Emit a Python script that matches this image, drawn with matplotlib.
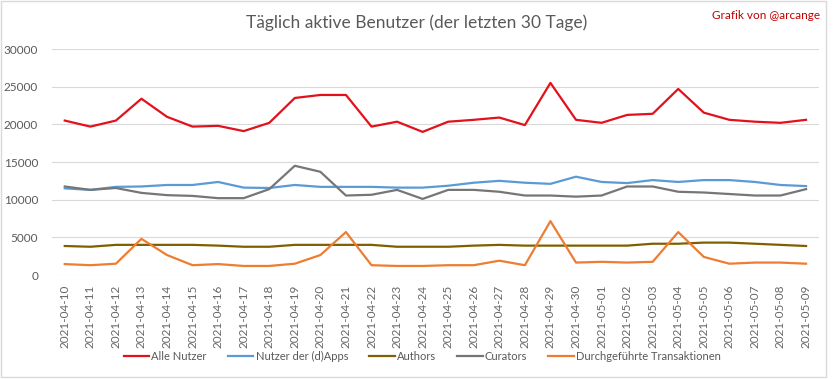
import numpy as np
import pandas as pd
import matplotlib
matplotlib.use("Agg")
import matplotlib.pyplot as plt
from matplotlib.patches import Rectangle

# tage (30)
dates = pd.date_range("2021-04-10", "2021-05-09").strftime("%Y-%m-%d").tolist()

alle_nutzer = [20500, 19700, 20500, 23400, 21000, 19700, 19800, 19100, 20200, 23500,
               23900, 23900, 19700, 20350, 19000, 20350, 20600, 20900, 19900, 25500,
               20600, 20200, 21250, 21400, 24700, 21550, 20600, 20350, 20200, 20600]
dapps = [11500, 11300, 11700, 11750, 11950, 11950, 12350, 11600, 11550, 11950,
         11700, 11700, 11700, 11600, 11600, 11850, 12250, 12500, 12250, 12100,
         13050, 12350, 12200, 12600, 12350, 12600, 12600, 12350, 11950, 11800]
authors = [3850, 3750, 4000, 4000, 4000, 4000, 3900, 3750, 3750, 4000,
           4000, 4000, 4000, 3750, 3750, 3750, 3900, 4000, 3900, 3900,
           3900, 3900, 3900, 4150, 4150, 4300, 4300, 4150, 4000, 3850]
curators = [11750, 11300, 11550, 10900, 10600, 10500, 10200, 10200, 11400, 14500,
            13700, 10550, 10650, 11300, 10100, 11300, 11300, 11050, 10550, 10550,
            10400, 10550, 11750, 11750, 11050, 10950, 10750, 10550, 10550, 11400]
transaktionen = [1450, 1300, 1500, 4800, 2650, 1300, 1450, 1200, 1200, 1500,
                 2650, 5700, 1300, 1200, 1200, 1300, 1300, 1900, 1300, 7150,
                 1650, 1750, 1650, 1750, 5700, 2400, 1500, 1650, 1650, 1500]

series = [
    ("Alle Nutzer", alle_nutzer, "#E3111B"),
    ("Nutzer der (d)Apps", dapps, "#5B9BD5"),
    ("Authors", authors, "#7F6000"),
    ("Curators", curators, "#767676"),
    ("Durchgeführte Transaktionen", transaktionen, "#ED7D31"),
]

plt.rcParams['font.family'] = ['Lato', 'DejaVu Sans']
txt_col = "#595959"

fig = plt.figure(figsize=(8.33, 3.79), dpi=100)
ax = fig.add_axes([0.0624, 0.2744, 0.9206, 0.5963])

x = np.arange(len(dates))
for name, vals, col in series:
    ax.plot(x, vals, color=col, linewidth=1.6, label=name)

ax.set_xlim(-0.5, len(dates) - 0.5)
ax.set_ylim(0, 30000)
ax.set_yticks(range(0, 30001, 5000))
ax.set_xticks(x)
ax.set_xticklabels(dates, rotation=90, fontsize=8.5, color="#666666")
ax.tick_params(axis='y', labelsize=8.5, labelcolor=txt_col, length=0, pad=10)
ax.tick_params(axis='x', length=0, pad=7)
ax.grid(axis='y', color="#D9D9D9", linewidth=0.8)
ax.set_axisbelow(True)
for s in ax.spines.values():
    s.set_visible(False)

fig.text(0.5, 0.94, "Täglich aktive Benutzer (der letzten 30 Tage)",
         ha='center', va='center', fontsize=12.5, color=txt_col)
fig.text(0.985, 0.96, "Grafik von @arcange", ha='right', va='center',
         fontsize=8.5, color="#C00000")

fig.legend(loc='center', bbox_to_anchor=(0.507, 0.06), ncol=5, frameon=False,
           fontsize=8, labelcolor=txt_col, handlelength=2.3,
           handletextpad=0.2, columnspacing=1.9)

fig.patches.append(Rectangle((0.001, 0.004), 0.99, 0.994, transform=fig.transFigure,
                             fill=False, edgecolor="#D9D9D9", linewidth=1))

fig.savefig("out.png", dpi=100, facecolor="white")
